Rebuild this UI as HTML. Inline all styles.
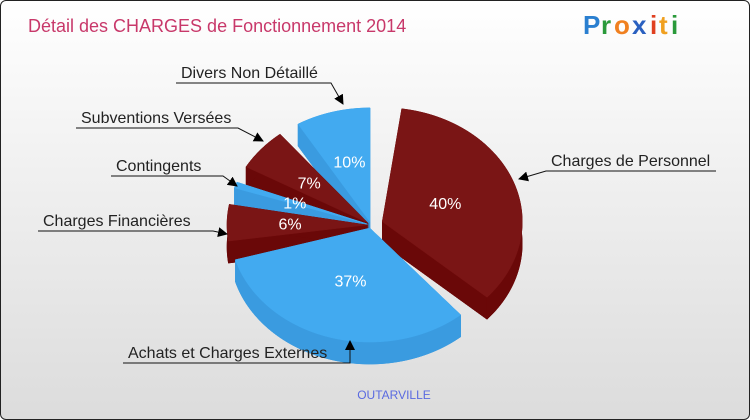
<!DOCTYPE html>
<html><head><meta charset="utf-8"><style>
body{margin:0;}
#wrap{width:748px;height:418px;border:1px solid #222;border-radius:6px;background:linear-gradient(#ffffff,#f4f4f4 30%,#dcdcdc);position:relative;overflow:hidden;font-family:"Liberation Sans",sans-serif;}
svg{position:absolute;left:0;top:0;}
</style></head><body>
<div id="wrap">
<svg id="chart" width="748" height="418">
<defs><marker id="arr" markerWidth="10" markerHeight="10" refX="9" refY="5" orient="auto" markerUnits="userSpaceOnUse"><path d="M0,0 L10,5 L0,10 z" fill="#000"/></marker></defs>
<text x="27" y="31" font-size="18" fill="#c8386a">Détail des CHARGES de Fonctionnement 2014</text>
<g font-size="26" font-weight="bold" font-family="Liberation Sans,sans-serif">
<text x="582" y="33" fill="#2a7fd0">P</text><text x="600" y="33" fill="#2a9a3a">r</text><text x="613" y="33" fill="#f08020">o</text><text x="631" y="33" fill="#2a60c0">x</text><text x="649" y="33" fill="#e04020">i</text><text x="658" y="33" fill="#f0a020">t</text><text x="670" y="33" fill="#2a9a3a">i</text>
</g>
<g id="slices"></g>
<g id="pcts"></g>
<g id="labels"></g>
<text x="393" y="398" font-size="12" fill="#5a6ae0" text-anchor="middle">OUTARVILLE</text>
</svg>
</div>
<script>
const categories=["Charges de Personnel","Achats et Charges Externes","Charges Financières","Contingents","Subventions Versées","Divers Non Détaillé"];
const values=[40,37,6,1,7,10];
const pctLabels=["40%","37%","6%","1%","7%","10%"];
const colorsTop=["#7a1515","#42aaf0","#7a1515","#42aaf0","#7a1515","#42aaf0"];
const colorsSide=["#6a0808","#3a9be0","#6a0808","#3a9be0","#6a0808","#3a9be0"];
const NS="http://www.w3.org/2000/svg";
const cx=370,cy=224,rx=140,ry=114,depth=22,gap=8,startDeg=8;
const total=values.reduce((a,b)=>a+b,0);
const scale=(360-values.length*gap)/total;
function pt(a,r,ox,oy,dz){const t=a*Math.PI/180;return [ox+r*rx*Math.sin(t),oy-r*ry*Math.cos(t)+dz];}
const sl=[];let acc=startDeg;
values.forEach((v,i)=>{const a0=acc,a1=acc+v*scale;acc=a1+gap;const m=(a0+a1)/2;const t=m*Math.PI/180;
 const ex=i===0?12:4;
 const ox=cx+ex*Math.sin(t),oy=cy-ex*Math.cos(t)*0.8;sl.push({i,a0,a1,m,ox,oy});});
const g=document.getElementById('slices');
function poly(pts,fill,name){const p=document.createElementNS(NS,'polygon');p.setAttribute('points',pts.map(q=>q.join(',')).join(' '));p.setAttribute('fill',fill);p.setAttribute('stroke',fill);p.setAttribute('stroke-width','0.5');


g.appendChild(p);}
const order=sl.slice().sort((a,b)=>(-Math.cos(a.m*Math.PI/180))-(-Math.cos(b.m*Math.PI/180)));
order.forEach(s=>{
 const arcT=[],arcB=[];
 for(let a=s.a0;a<=s.a1+0.001;a+=Math.max(0.5,(s.a1-s.a0)/80)){arcT.push(pt(a,1,s.ox,s.oy,0));arcB.push(pt(a,1,s.ox,s.oy,depth));}
 arcT.push(pt(s.a1,1,s.ox,s.oy,0));arcB.push(pt(s.a1,1,s.ox,s.oy,depth));
 const cT=[s.ox,s.oy],cB=[s.ox,s.oy+depth];
 poly([cB].concat(arcB),colorsSide[s.i],'slice-bottom-'+s.i);
 poly([cT,cB,arcB[0],arcT[0]],colorsSide[s.i],'slice-wall-start-'+s.i);
 poly([cT,cB,arcB[arcB.length-1],arcT[arcT.length-1]],colorsSide[s.i],'slice-wall-end-'+s.i);
 poly(arcT.concat(arcB.slice().reverse()),colorsSide[s.i],'slice-side-'+s.i);
 poly([cT].concat(arcT),colorsTop[s.i],'slice-top-'+s.i);
});
const pg=document.getElementById('pcts');
sl.forEach(s=>{const p=pt(s.m,s.i<2?0.48:0.55,s.ox,s.oy,0);
 const t=document.createElementNS(NS,'text');t.setAttribute('x',p[0]);t.setAttribute('y',p[1]+6);t.setAttribute('fill','#fff');t.setAttribute('font-size','16');t.setAttribute('text-anchor','middle');t.textContent=pctLabels[s.i];
 
 
 pg.appendChild(t);});
const lab=[[545,715,170,[518,178],"start"],[349,122,362,[349,340],"end"],[212,37,230,[226,233],"end"],[222,110,175,[236,185],"end"],[237,75,127,[262,140],"end"],[330,175,82,[342,103],"end"]];
const lg=document.getElementById('labels');
lab.forEach((L,i)=>{const[x1,x2,y,arr]=L;
 const pl=document.createElementNS(NS,'polyline');pl.setAttribute('points',`${x2},${y} ${x1},${y} ${arr[0]},${arr[1]}`);pl.setAttribute('fill','none');pl.setAttribute('stroke','#111');pl.setAttribute('marker-end','url(#arr)');
 
 
 lg.appendChild(pl);
 const t=document.createElementNS(NS,'text');const left=Math.min(x1,x2);t.setAttribute('x',left+5);t.setAttribute('y',y-5);t.setAttribute('font-size','16');t.setAttribute('fill','#222');t.textContent=categories[i];
 
 
 lg.appendChild(t);});
</script>
</body></html>
